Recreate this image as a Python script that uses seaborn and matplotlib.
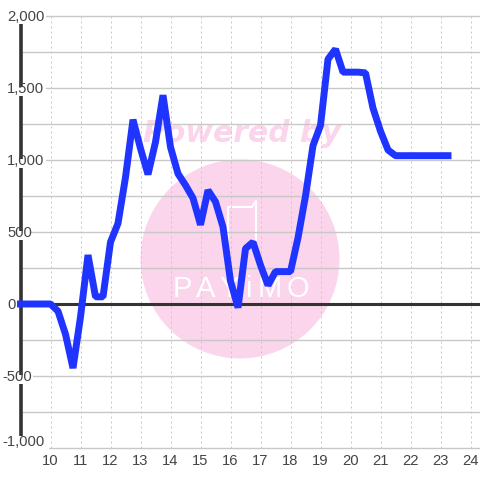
import numpy as np
import pandas as pd
import seaborn as sns
import matplotlib
matplotlib.use("Agg")
import matplotlib.pyplot as plt
from matplotlib.patches import Ellipse, Rectangle

hours = [9 + 0.25 * i for i in range(58)]
values = [0, 0, 0, 0, 0, -50, -210, -445, -90, 340, 50, 50,
          430, 560, 880, 1280, 1080, 900, 1125, 1450, 1090, 905, 825, 735,
          550, 790, 710, 535, 160, -25, 385, 430, 270, 130, 225, 225,
          225, 460, 750, 1100, 1240, 1700, 1770, 1610, 1610, 1610, 1605, 1360,
          1200, 1070, 1030, 1030, 1030, 1030, 1030, 1030, 1030, 1030]
y_ticks = [-1000, -500, 0, 500, 1000, 1500, 2000]
y_labels = ["-1,000", "-500", "0", "500", "1,000", "1,500", "2,000"]
y_minor = [-750, -250, 250, 750, 1250, 1750]
x_ticks = list(range(10, 25))
logo_letters = ["P", "A", "Y", "i", "M", "O"]
logo_centres = [182, 206, 229, 249, 270, 298]

sns.set_theme(style="white")
plt.rcParams["font.family"] = ["Liberation Sans", "DejaVu Sans"]
fig = plt.figure(figsize=(4.8, 4.8), dpi=100)
ax = fig.add_axes([0, 0, 1, 1])
def xv(p): return 10 + (p - 50.5) / 30.0
def yv(p): return (304.0 - p) / 0.144
ax.set_xlim(xv(0), xv(480))
ax.set_ylim(yv(480), yv(0))

GRID = "#c8c8c8"
ax.add_patch(Ellipse((xv(240), yv(259)), 199 / 30.0, 199 / 0.144, fc="#fbd5ec", ec="none", zorder=1))
ax.text(xv(242), yv(134), "Powered by", color="#fbd5ec", fontsize=21.5, fontweight="bold",
        fontstyle="italic", family="DejaVu Sans", ha="center", va="center", zorder=1)
for letter, c in zip(logo_letters, logo_centres):
    ax.text(xv(c), yv(289), letter, color="white", fontsize=21, ha="center", va="center", zorder=2.5)
ax.plot([xv(228), xv(228), xv(252), xv(256), xv(256)],
        [yv(250), yv(207), yv(207), yv(201), yv(250)], color="white", lw=1.5, zorder=1.5)

for t in x_ticks:
    ax.plot([t, t], [-1000, 2000], color=GRID, lw=0.72, ls=(0, (2, 3)), zorder=2)
for t in y_ticks + y_minor:
    ax.plot([xv(20), xv(480)], [t, t], color=GRID, lw=1.0, zorder=2)
ax.plot([xv(20.5), xv(20.5)], [-1000, 2000], color="#333333", lw=2.6, solid_capstyle="butt", zorder=3)
ax.plot([xv(20), xv(480)], [0, 0], color="#333333", lw=2.2, solid_capstyle="butt", zorder=3)

for t, lab in zip(y_ticks, y_labels):
    left = 2.5 if lab.startswith("-") else 7
    ypix = 304 - t * 0.144
    text_y = 441.5 if t == -1000 else ypix + 0.7
    right = left + len(lab) * 7.3 + (2 if "," in lab else 0)
    top = 436 if t == -1000 else ypix - 1.5
    bottom = 450 if t == -1000 else ypix + 8
    ax.add_patch(Rectangle((xv(left - 1), yv(bottom)), (right - left + 2) / 30.0, (bottom - top) / 0.144,
                           fc="white", ec="none", zorder=3.5))
    ax.text(xv(left), yv(text_y), lab, ha="left", va="center", fontsize=10.6, color="#444444", zorder=4)
for t in x_ticks:
    ax.text(t, yv(461), str(t), ha="center", va="center", fontsize=10.6, color="#444444", zorder=4)

df = pd.DataFrame({"hour": hours, "value": values})
sns.lineplot(data=df, x="hour", y="value", ax=ax, color="#1f35ff", lw=5.0, errorbar=None, zorder=5,
             solid_capstyle="projecting", solid_joinstyle="bevel", legend=False)
ax.axis("off")
fig.savefig("out.png", dpi=100)
